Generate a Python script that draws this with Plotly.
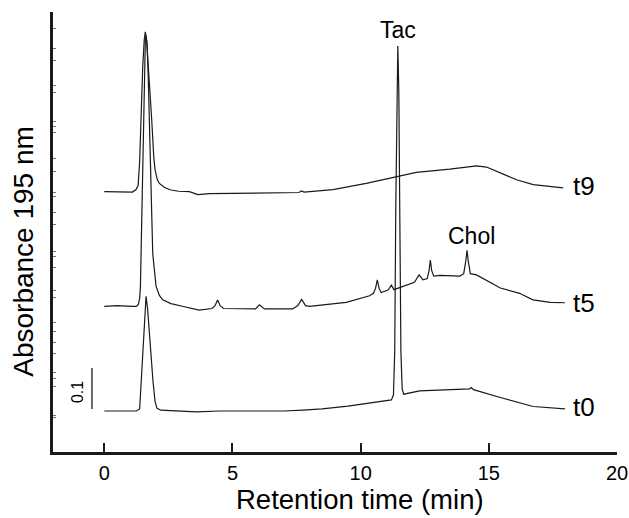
import plotly.graph_objects as go

# ---- data (absorbance, AU, relative to each trace's own baseline) ----
t0_time = [0.00, 1.25, 1.38, 1.43, 1.50, 1.57, 1.63, 1.69, 1.76, 1.82, 1.90, 1.98, 2.05, 2.20, 2.50,
           3.00, 3.60, 4.50, 7.00, 7.75, 8.50, 9.50, 10.50, 11.20, 11.28, 11.33, 11.37, 11.41, 11.45,
           11.49, 11.53, 11.57, 11.62, 11.68, 12.30, 13.50, 14.25, 14.32, 14.40, 15.45, 16.73, 17.97]
t0_abs = [0.000, 0.000, 0.005, 0.061, 0.146, 0.244, 0.280, 0.249, 0.183, 0.139, 0.073, 0.024, 0.007, 0.002, 0.001,
          0.000, -0.002, 0.000, 0.000, 0.002, 0.005, 0.012, 0.020, 0.027, 0.039, 0.146, 0.488, 0.780, 0.890,
          0.780, 0.488, 0.146, 0.054, 0.041, 0.049, 0.051, 0.054, 0.057, 0.052, 0.033, 0.011, 0.005]

t5_time = [0.00, 0.50, 1.10, 1.25, 1.33, 1.38, 1.41, 1.45, 1.50, 1.55, 1.60, 1.63, 1.67, 1.72, 1.78, 1.89,
           2.02, 2.15, 2.28, 2.60, 3.00, 3.40, 3.70, 4.20, 4.32, 4.42, 4.52, 4.65, 5.90, 6.05, 6.25, 7.35,
           7.55, 7.70, 7.85, 8.00, 9.44, 10.35, 10.50, 10.58, 10.65, 10.72, 10.80, 11.07, 11.20, 11.30,
           12.10, 12.28, 12.43, 12.60, 12.67, 12.72, 12.77, 12.85, 13.10, 13.87, 14.02, 14.10, 14.15,
           14.20, 14.28, 14.52, 15.17, 15.45, 16.20, 16.72, 17.40, 17.97]
t5_abs = [0.000, 0.002, 0.000, 0.000, 0.005, 0.020, 0.049, 0.171, 0.373, 0.537, 0.646, 0.661, 0.639, 0.549, 0.373, 0.129,
          0.049, 0.027, 0.016, 0.007, 0.001, -0.005, -0.009, -0.005, 0.002, 0.016, 0.002, -0.005, -0.006, 0.004, -0.006, -0.006,
          0.002, 0.017, 0.002, 0.000, 0.010, 0.026, 0.032, 0.044, 0.065, 0.044, 0.034, 0.040, 0.052, 0.041,
          0.059, 0.077, 0.065, 0.068, 0.088, 0.113, 0.088, 0.074, 0.076, 0.074, 0.080, 0.110, 0.137,
          0.110, 0.080, 0.077, 0.056, 0.045, 0.032, 0.016, 0.010, 0.009]

t9_time = [0.00, 1.10, 1.24, 1.32, 1.38, 1.44, 1.50, 1.56, 1.60, 1.65, 1.73, 1.85, 1.93, 1.98, 2.07, 2.15,
           2.35, 2.60, 2.90, 3.32, 3.65, 4.10, 7.60, 7.68, 7.80, 8.92, 10.22, 11.40, 12.17, 13.48,
           14.52, 14.91, 16.08, 16.73, 17.90]
t9_abs = [0.000, -0.001, 0.005, 0.015, 0.073, 0.195, 0.305, 0.371, 0.390, 0.371, 0.298, 0.176, 0.085, 0.054, 0.029, 0.020,
          0.010, 0.004, 0.001, 0.000, -0.007, -0.005, -0.002, 0.002, -0.001, 0.005, 0.020, 0.036, 0.047, 0.055,
          0.063, 0.060, 0.029, 0.017, 0.009]

trace_names = ["t0", "t5", "t9"]
trace_offsets = [0.100, 0.355, 0.635]
trace_label_y = [0.110, 0.363, 0.649]

peak_labels = ["Tac", "Chol"]
peak_label_x = [11.47, 14.31]
peak_label_y = [1.030, 0.527]

x_tick_values = [0, 5, 10, 15, 20]
x_tick_labels = ["0", "5", "10", "15", "20"]
y_tick_values = [1.032, 0.983, 0.954, 0.893, 0.876, 0.805, 0.795, 0.780, 0.715, 0.683, 0.634, 0.624,
                 0.585, 0.556, 0.488, 0.476, 0.449, 0.395, 0.378, 0.317, 0.293, 0.268, 0.241, 0.195,
                 0.180, 0.159, 0.090, 0.083]

x_title = "Retention time (min)"
y_title = "Absorbance 195 nm"

scale_bar_value = 0.1
scale_bar_base = 0.105
scale_bar_x = -0.48

FONT = "Liberation Sans, Arial, Helvetica, sans-serif"

fig = go.Figure()
series = [(t0_time, t0_abs), (t5_time, t5_abs), (t9_time, t9_abs)]
for (tx, ty), name, off, ly in zip(series, trace_names, trace_offsets, trace_label_y):
    fig.add_trace(go.Scatter(x=tx, y=[v + off for v in ty], mode="lines",
                             line=dict(color="#1a1a1a", width=1.2), name=name,
                             showlegend=False, hoverinfo="skip"))
    fig.add_annotation(x=18.2, y=ly, text=name, showarrow=False,
                       xanchor="left", yanchor="middle",
                       font=dict(family=FONT, size=26, color="black"))

for lab, lx, ly in zip(peak_labels, peak_label_x, peak_label_y):
    fig.add_annotation(x=lx, y=ly, text=lab, showarrow=False, xanchor="center", yanchor="middle",
                       font=dict(family=FONT, size=23, color="black"))

# scale bar
fig.add_trace(go.Scatter(x=[scale_bar_x, scale_bar_x], y=[scale_bar_base, scale_bar_base + scale_bar_value],
                         mode="lines", line=dict(color="#1a1a1a", width=1.3), showlegend=False,
                         hoverinfo="skip"))
fig.add_annotation(x=-1.05, y=scale_bar_base + scale_bar_value / 2 - 0.008, text=str(scale_bar_value),
                   textangle=-90, showarrow=False, xanchor="center", yanchor="middle",
                   font=dict(family=FONT, size=16, color="black"))

# axis titles
fig.add_annotation(xref="paper", yref="paper", x=0.5438, y=-0.108, text=x_title, showarrow=False,
                   xanchor="center", yanchor="middle", font=dict(family=FONT, size=27.5, color="black"))
fig.add_annotation(xref="paper", yref="paper", x=-0.0527, y=0.4557, text=y_title, showarrow=False,
                   textangle=-90, xanchor="center", yanchor="middle",
                   font=dict(family=FONT, size=28, color="black"))

fig.update_layout(
    width=629, height=518,
    margin=dict(l=53, r=12, t=12, b=66),
    paper_bgcolor="white", plot_bgcolor="white",
    font=dict(family=FONT, color="black"),
    xaxis=dict(range=[-2, 20], showgrid=False, zeroline=False, showline=True, linecolor="#1a1a1a",
               linewidth=3, ticks="inside", ticklen=9, tickwidth=2, tickcolor="#1a1a1a",
               tickvals=x_tick_values, ticktext=x_tick_labels, tickfont=dict(size=20, family=FONT),
               automargin=False, ticklabelstandoff=1),
    yaxis=dict(range=[0, 1.0732], showgrid=False, zeroline=False, showline=True, linecolor="#1a1a1a",
               linewidth=3, ticks="inside", ticklen=3, tickwidth=1, tickcolor="#777777",
               tickvals=y_tick_values, showticklabels=False, automargin=False),
)

# remove the default 8px page margin so the 629x518 figure fills the window exactly
fig.write_html("out.html", config={"displayModeBar": False},
               post_script="document.body.style.margin='0';document.body.style.overflow='hidden';")
